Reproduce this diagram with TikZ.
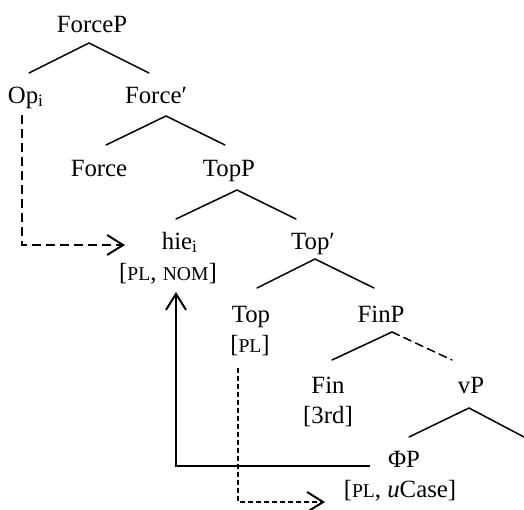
\documentclass[tikz,border=0pt]{standalone}
\usepackage{fontspec}
\setmainfont{Liberation Serif}
\usetikzlibrary{arrows.meta}
% feature bundles are set in reduced capitals
\newcommand{\feat}[1]{{\fontsize{9.8pt}{10pt}\selectfont #1}}
\newcommand{\idx}{\textsubscript{i}}

\begin{document}
\begin{tikzpicture}[x=0.5pt,y=-0.5pt,
  lbl/.style={inner sep=0pt, anchor=base, font=\fontsize{12.4pt}{14pt}\selectfont},
  branch/.style={line width=0.75pt, line cap=round},
  dbranch/.style={branch, dash pattern=on 4pt off 2.5pt},
  headtip/.style={-{Straight Barb[length=8pt,width=10pt,line width=1pt]}},
  movedash/.style={headtip, line width=1pt, dash pattern=on 4.5pt off 2.5pt},
  agreedash/.style={headtip, line width=0.75pt, dash pattern=on 2.5pt off 1.5pt},
  agreesolid/.style={headtip, line width=1pt}]
\useasboundingbox (0,0) rectangle (524,509);

% labels of the tree
\node[lbl] (ForceP)   at (92,32)   {ForceP};
\node[lbl] (Op)       at (26,103)  {Op\idx};
\node[lbl] (ForceBar) at (156,103) {Force′};
\node[lbl] (Force)    at (99,176)  {Force};
\node[lbl] (TopP)     at (229,176) {TopP};
\node[lbl] (hie)      at (180,249) {hie\idx};
\node[lbl] (hieF)     at (168,280) {[\feat{PL}, \feat{NOM}]};
\node[lbl] (TopBar)   at (313,249) {Top′};
\node[lbl] (Top)      at (251,322) {Top};
\node[lbl] (TopF)     at (250,352) {[\feat{PL}]};
\node[lbl] (FinP)     at (381,322) {FinP};
\node[lbl] (Fin)      at (328,393) {Fin};
\node[lbl] (FinF)     at (328,423) {[3rd]};
\node[lbl] (vP)       at (471,393) {vP};
\node[lbl] (PhiP)     at (404,467) {ΦP};
\node[lbl] (PhiF)     at (400,497) {[\feat{PL}, \textit{u}Case]};

% branches
\draw[branch] ([shift={(3,-30)}]Op.base) -- ([shift={(-3,11)}]ForceP.base) -- ([shift={(-7,-30)}]ForceBar.base);
\draw[branch] ([shift={(7,-31)}]Force.base) -- ([shift={(10,13)}]ForceBar.base) -- ([shift={(-4,-31)}]TopP.base);
\draw[branch] ([shift={(-4,-30)}]hie.base) -- ([shift={(8,14)}]TopP.base) -- ([shift={(-17,-30)}]TopBar.base);
\draw[branch] ([shift={(6,-34)}]Top.base) -- ([shift={(2,10)}]TopBar.base) -- ([shift={(-7,-34)}]FinP.base);
\draw[branch] ([shift={(4,-33)}]Fin.base) -- ([shift={(11,10)}]FinP.base);
\draw[dbranch] ([shift={(11,10)}]FinP.base) -- ([shift={(-19,-33)}]vP.base);
\draw[branch] ([shift={(5,-30)}]PhiP.base) -- ([shift={(-2,15)}]vP.base) -- ([shift={(53,44)}]vP.base);

% movement and agreement arrows
\draw[movedash] ([shift={(-4,12)}]Op.base) |- ([shift={(-55,-4)}]hie.base);
\draw[agreesolid] ([shift={(-34,-1)}]PhiP.base) -| ([shift={(8,12)}]hieF.base);
\draw[agreedash] ([shift={(-13,46)}]Top.base) |- ([shift={(-75,5)}]PhiF.base);
\end{tikzpicture}
\end{document}
